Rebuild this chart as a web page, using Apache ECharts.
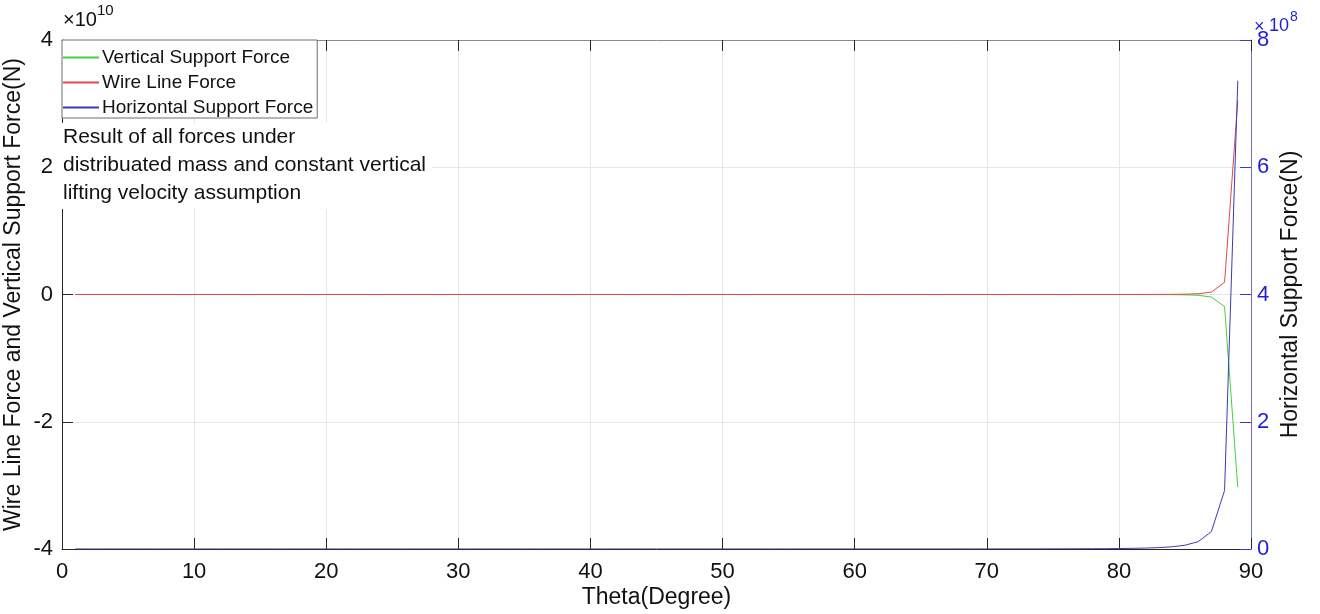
<!DOCTYPE html>
<html>
<head>
<meta charset="utf-8">
<script src="https://cdn.jsdelivr.net/npm/echarts@6/dist/echarts.min.js"></script>
<style>
html,body{margin:0;padding:0;background:#fff;}
#c{width:1320px;height:614px;}
</style>
</head>
<body>
<div id="c"></div>
<script>
// Theta (degree) sample points
const theta = [1,2,3,4,5,6,7,8,9,10,11,12,13,14,15,16,17,18,19,20,21,22,23,24,25,26,27,28,29,30,
  31,32,33,34,35,36,37,38,39,40,41,42,43,44,45,46,47,48,49,50,51,52,53,54,55,56,57,58,59,60,
  61,62,63,64,65,66,67,68,69,70,71,72,73,74,75,76,77,78,79,80,81,82,83,84,85,86,87,88,89];

// Vertical Support Force (N) - left axis
const verticalForce = [-2830,-2840,-2850,-2860,-2870,-2890,-2920,-2940,-2970,-3010,
  -3050,-3090,-3140,-3190,-3250,-3310,-3380,-3460,-3540,-3630,
  -3730,-3830,-3940,-4060,-4190,-4340,-4490,-4660,-4840,-5030,
  -5240,-5470,-5720,-5990,-6280,-6610,-6960,-7340,-7760,-8220,
  -8720,-9280,-9890,-10600,-11300,-12200,-13100,-14100,-15300,-16600,
  -18000,-19700,-21600,-23700,-26200,-28900,-32200,-35900,-40200,-45300,
  -51200,-58300,-66600,-76600,-88700,-103000,-121000,-144000,-172000,-207000,
  -252000,-310000,-387000,-490000,-631000,-826000,-1.10e6,-1.51e6,-2.13e6,-3.11e6,
  -4.72e6,-7.54e6,-1.28e7,-2.4e7,-5.0e7,-1.25e8,-4.0e8,-1.90e9,-3.03e10];

// Wire Line Force (N) - left axis
const wireForce = [2830,2840,2850,2860,2870,2890,2920,2940,2970,3010,
  3050,3090,3140,3190,3250,3310,3380,3460,3540,3630,
  3730,3830,3940,4060,4190,4340,4490,4660,4840,5030,
  5240,5470,5720,5990,6280,6610,6960,7340,7760,8220,
  8720,9280,9890,10600,11300,12200,13100,14100,15300,16600,
  18000,19700,21600,23700,26200,28900,32200,35900,40200,45300,
  51200,58300,66600,76600,88700,103000,121000,144000,172000,207000,
  252000,310000,387000,490000,631000,826000,1.10e6,1.51e6,2.13e6,3.11e6,
  4.72e6,7.54e6,1.28e7,2.37e7,4.90e7,1.20e8,3.77e8,1.91e9,3.05e10];

// Horizontal Support Force (N) - right axis
const horizontalForce = [3910,3920,3930,3940,3960,3980,4000,4030,4060,4090,
  4130,4180,4230,4280,4340,4400,4470,4550,4630,4710,
  4810,4910,5010,5130,5250,5390,5530,5680,5850,6020,
  6210,6410,6630,6860,7110,7390,7680,7990,8330,8700,
  9100,9530,10000,10500,11100,11700,12300,13100,13800,14700,
  15700,16800,17900,19300,20700,22400,24200,26300,28600,31300,
  34300,37800,41800,46400,51800,58100,65600,74400,85000,97800,
  113000,133000,157000,187000,226000,276000,344000,435000,563000,747000,
  1.02e6,1.45e6,2.16e6,3.42e6,5.90e6,1.15e7,2.73e7,9.20e7,7.36e8];

const seriesNames = ['Vertical Support Force','Wire Line Force','Horizontal Support Force'];
const seriesColors = ['#3fd43f', '#de4a4a', '#3b3bb5'];
const xTicks = [0,90,10];
const leftTicks = [-4e10,4e10,2e10];
const rightTicks = [0,8e8,2e8];

const FONT = '"Liberation Sans", Arial, Helvetica, sans-serif';
const pairs = (ys) => theta.map((t, i) => [t, ys[i]]);

const chart = echarts.init(document.getElementById('c'), null, {renderer: 'canvas'});
chart.setOption({
  animation: false,
  backgroundColor: '#ffffff',
  textStyle: {fontFamily: FONT},
  grid: {left: 62, right: 69, top: 40, bottom: 65, containLabel: false, outerBoundsMode: 'none'},
  legend: {
    orient: 'vertical', left: 62, top: 40,
    data: seriesNames.map((n) => ({name: n, icon: 'rect'})),
    itemWidth: 36, itemHeight: 2, itemGap: 6,
    padding: [8, 4, 1, 1],
    backgroundColor: '#ffffff',
    borderColor: '#6e6e6e', borderWidth: 1,
    textStyle: {fontSize: 19, color: '#111', fontFamily: FONT, lineHeight: 19, padding: [0,0,0,-2]}
  },
  xAxis: [{
    type: 'value', min: xTicks[0], max: xTicks[1], interval: xTicks[2],
    name: 'Theta(Degree)', nameLocation: 'middle', nameGap: 37, nameMoveOverlap: false,
    nameTextStyle: {fontSize: 23, color: '#111', fontFamily: FONT},
    axisLine: {show: true, onZero: false, lineStyle: {color: '#262626', width: 1}},
    axisTick: {show: true, inside: true, length: 11, lineStyle: {color: '#262626'}},
    axisLabel: {fontSize: 22, color: '#111', margin: 12, fontFamily: FONT},
    splitLine: {show: true, lineStyle: {color: '#e6e6e6', width: 1}}
  }, {
    type: 'value', position: 'top', min: xTicks[0], max: xTicks[1], interval: xTicks[2],
    axisLine: {show: true, onZero: false, lineStyle: {color: '#8c8c8c', width: 1}},
    axisTick: {show: true, inside: true, length: 11, lineStyle: {color: '#262626'}},
    axisLabel: {show: false},
    splitLine: {show: false}
  }],
  yAxis: [{
    type: 'value', position: 'left', min: leftTicks[0], max: leftTicks[1], interval: leftTicks[2],
    name: 'Wire Line Force and Vertical Support Force(N)', nameLocation: 'middle', nameGap: 37,
    nameMoveOverlap: false,
    nameTextStyle: {fontSize: 23, color: '#111', fontFamily: FONT},
    axisLine: {show: true, onZero: false, lineStyle: {color: '#262626', width: 1}},
    axisTick: {show: true, inside: true, length: 11, lineStyle: {color: '#262626'}},
    axisLabel: {fontSize: 22, color: '#111', margin: 9, fontFamily: FONT,
      formatter: (v) => String(Math.round(v / 1e10))},
    splitLine: {show: true, lineStyle: {color: '#e6e6e6', width: 1}}
  }, {
    type: 'value', position: 'right', min: rightTicks[0], max: rightTicks[1], interval: rightTicks[2],
    name: 'Horizontal Support Force(N)', nameLocation: 'middle', nameGap: 28, nameMoveOverlap: false,
    nameTextStyle: {fontSize: 23, color: '#111', fontFamily: FONT},
    axisLine: {show: true, onZero: false, lineStyle: {color: '#6f6fc4', width: 1}},
    axisTick: {show: true, inside: true, length: 11, lineStyle: {color: '#3a3ad0'}},
    axisLabel: {fontSize: 22, color: '#1f1fd6', margin: 6, fontFamily: FONT,
      formatter: (v) => String(Math.round(v / 1e8))},
    splitLine: {show: false}
  }],
  graphic: [
    {type: 'text', left: 63, top: 10, z: 100, style: {text: '\u00d710', fontSize: 20, fill: '#111', font: '20px ' + FONT}},
    {type: 'text', left: 97, top: 3, z: 100, style: {text: '10', fontSize: 15, fill: '#111', font: '15px ' + FONT}},
    {type: 'text', left: 1254, top: 18, z: 100, style: {text: '\u00d7', fontSize: 18, fill: '#1f1fd6', font: '18px ' + FONT}},
    {type: 'text', left: 1269, top: 17, z: 100, style: {text: '10', fontSize: 18, fill: '#1f1fd6', font: '18px ' + FONT}},
    {type: 'text', left: 1290, top: 10, z: 100, style: {text: '8', fontSize: 14, fill: '#1f1fd6', font: '14px ' + FONT}},
    {type: 'text', left: 62, top: 123, z: 100, style: {
      text: 'Result of all forces under\ndistribuated mass and constant vertical\nlifting velocity assumption',
      font: '21px ' + FONT, fill: '#111', lineHeight: 28,
      backgroundColor: '#ffffff', padding: [0, 6, 2, 1]}}
  ],
  series: [
    {name: seriesNames[0], type: 'line', xAxisIndex: 0, yAxisIndex: 0, data: pairs(verticalForce),
     symbol: 'none', showSymbol: false, color: seriesColors[0],
     lineStyle: {color: seriesColors[0], width: 1}, itemStyle: {color: seriesColors[0]}, z: 3},
    {name: seriesNames[1], type: 'line', xAxisIndex: 0, yAxisIndex: 0, data: pairs(wireForce),
     symbol: 'none', showSymbol: false, color: seriesColors[1],
     lineStyle: {color: seriesColors[1], width: 1}, itemStyle: {color: seriesColors[1]}, z: 4},
    {name: seriesNames[2], type: 'line', xAxisIndex: 0, yAxisIndex: 1, data: pairs(horizontalForce),
     symbol: 'none', showSymbol: false, color: seriesColors[2],
     lineStyle: {color: seriesColors[2], width: 1}, itemStyle: {color: seriesColors[2]}, z: 5}
  ]
});
</script>
</body>
</html>
